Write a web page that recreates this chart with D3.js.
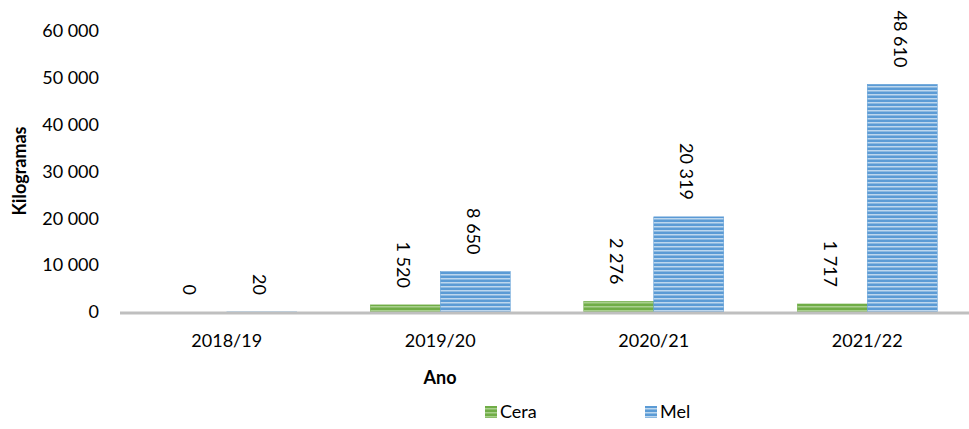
<!DOCTYPE html>
<html>
<head>
  <meta charset="utf-8">
  <title>Cera e Mel</title>
  <script src="https://d3js.org/d3.v7.min.js"></script>
  <style>
    body { margin: 0; background: white; }
    text { font-family: Lato, "Open Sans", sans-serif; fill: #000; }
  </style>
</head>
<body>
<script>
  // Data
  var years = ["2018/19", "2019/20", "2020/21", "2021/22"];
  var cera = [0, 1520, 2276, 1717];
  var mel = [20, 8650, 20319, 48610];
  var seriesNames = ["Cera", "Mel"];
  var yTicks = [0, 10000, 20000, 30000, 40000, 50000, 60000];

  var width = 969, height = 429;
  var svg = d3.select("body").append("svg")
      .attr("width", width).attr("height", height);

  // Stripe patterns
  var defs = svg.append("defs");
  function stripes(id, base, light) {
    var p = defs.append("pattern").attr("id", id)
        .attr("patternUnits", "userSpaceOnUse")
        .attr("width", 8).attr("height", 4);
    p.append("rect").attr("width", 8).attr("height", 4).attr("fill", base);
    p.append("rect").attr("y", 2).attr("width", 8).attr("height", 1.5).attr("fill", light);
  }
  stripes("pCera", "#70ad47", "#a9d08e");
  stripes("pMel", "#5b9bd5", "#bdd7ee");
  var fills = {Cera: "url(#pCera)", Mel: "url(#pMel)"};
  var swatch = {Cera: "#70ad47", Mel: "#5b9bd5"};

  // Scales
  var x = d3.scaleBand().domain(years).range([120, 974]);
  var x1 = d3.scaleBand().domain(seriesNames).range([0, 140]);
  var y = d3.scaleLinear().domain([0, 60000]).range([312, 31]);
  var fmt = function(v) { return d3.format(",")(v).replace(/,/g, " "); };

  // Y ticks (no gridlines)
  svg.append("g").selectAll("text").data(yTicks).enter().append("text")
      .attr("x", 99).attr("y", function(d) { return y(d); })
      .attr("dy", "0.35em").attr("text-anchor", "end")
      .style("font-size", "18px").text(fmt);

  // Bars
  var rows = [];
  years.forEach(function(yr, i) {
    rows.push({year: yr, s: "Cera", v: cera[i]});
    rows.push({year: yr, s: "Mel", v: mel[i]});
  });
  var off = (x.bandwidth() - 140) / 2;
  svg.append("g").selectAll("rect").data(rows).enter().append("rect")
      .attr("x", function(d) { return x(d.year) + off + x1(d.s); })
      .attr("width", x1.bandwidth())
      .attr("y", function(d) { return y(d.v); })
      .attr("height", function(d) { return y(0) - y(d.v); })
      .attr("fill", function(d) { return fills[d.s]; })
      .attr("stroke", function(d) { return swatch[d.s]; })
      .attr("stroke-width", 0.5);

  // Value labels, rotated
  svg.append("g").selectAll("text").data(rows).enter().append("text")
      .attr("transform", function(d) {
        var cx = x(d.year) + off + x1(d.s) + x1.bandwidth() / 2 - 2;
        var cy = y(d.v) - 17;
        return "translate(" + cx + "," + cy + ") rotate(90)";
      })
      .attr("text-anchor", "end").attr("dy", "0.35em")
      .style("font-size", "18px")
      .text(function(d) { return fmt(d.v); });

  // X axis line
  svg.append("line").attr("x1", 120).attr("x2", 969)
      .attr("y1", 313).attr("y2", 313)
      .attr("stroke", "#bfbfbf").attr("stroke-width", 3);

  // Category labels
  svg.append("g").selectAll("text").data(years).enter().append("text")
      .attr("x", function(d) { return x(d) + x.bandwidth() / 2; })
      .attr("y", 341).attr("dy", "0.35em").attr("text-anchor", "middle")
      .style("font-size", "18px").text(function(d) { return d; });

  // Axis titles
  svg.append("text").attr("x", 440).attr("y", 378).attr("dy", "0.35em")
      .attr("text-anchor", "middle").style("font-size", "18px")
      .style("font-weight", "bold").text("Ano");
  svg.append("text").attr("transform", "translate(20,171) rotate(-90)")
      .attr("dy", "0.35em").attr("text-anchor", "middle")
      .style("font-size", "18px").style("font-weight", "bold").text("Kilogramas");

  // Legend
  var legX = {Cera: 485, Mel: 645};
  var leg = svg.append("g").selectAll("g").data(seriesNames).enter().append("g")
      .attr("transform", function(d) { return "translate(" + legX[d] + ",406)"; });
  leg.append("rect").attr("width", 12).attr("height", 12)
      .attr("fill", function(d) { return fills[d]; });
  leg.append("text").attr("x", 15).attr("y", 6).attr("dy", "0.35em")
      .style("font-size", "18px").text(function(d) { return d; });
</script>
</body>
</html>
